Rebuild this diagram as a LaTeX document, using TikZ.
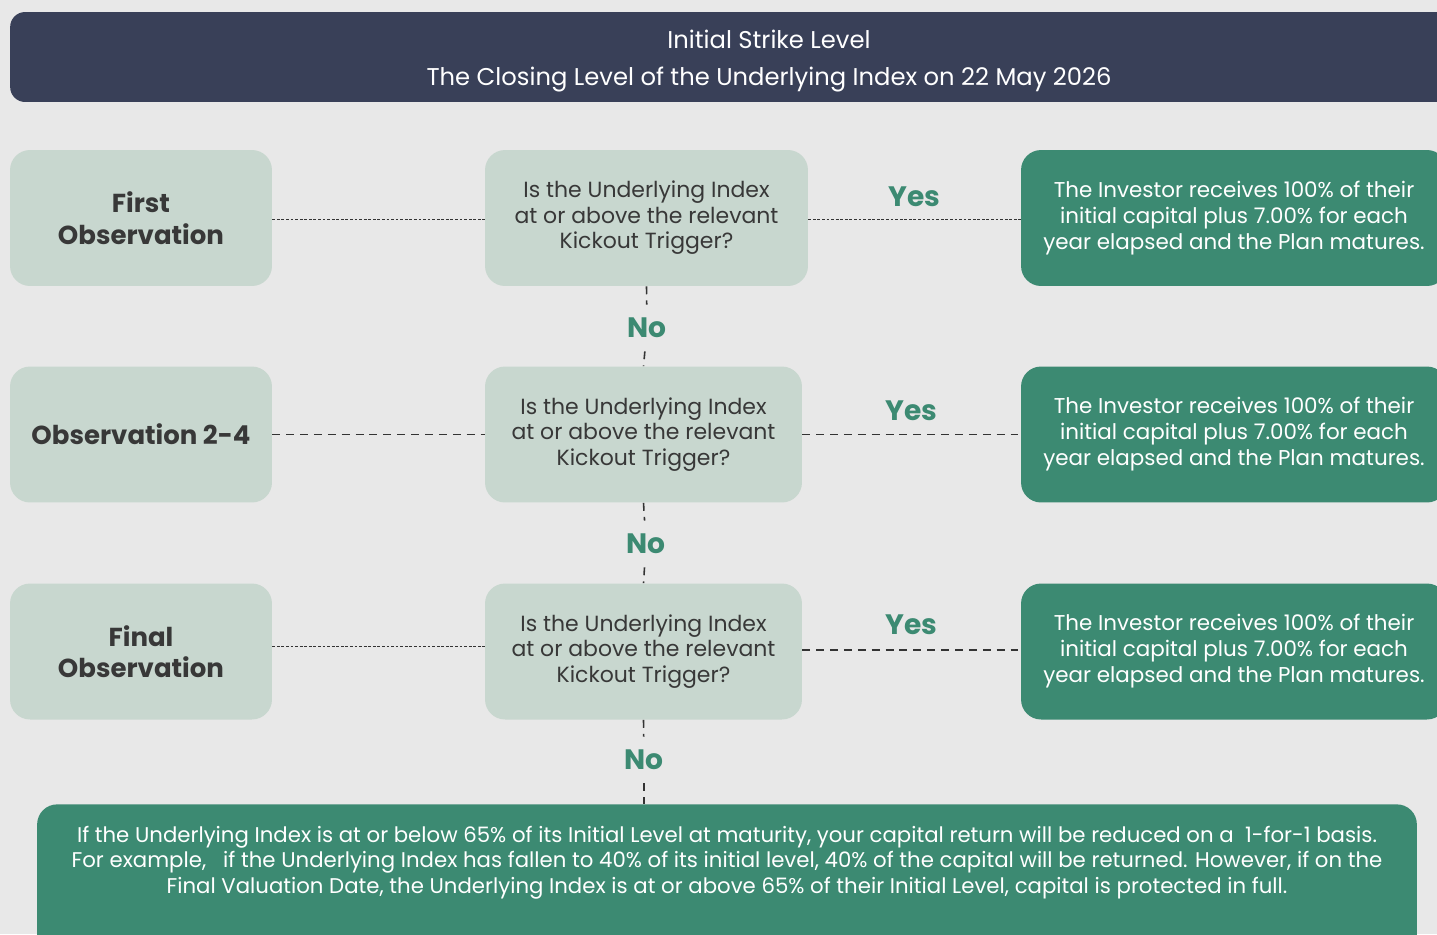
\documentclass[tikz,border=0pt]{standalone}
\usepackage{fontspec}
\setmainfont{Poppins}
\usetikzlibrary{positioning}
\definecolor{pagebg}{HTML}{E8E8E8}
\definecolor{headnavy}{HTML}{394058}
\definecolor{palebox}{HTML}{C8D7CF}
\definecolor{kickgreen}{HTML}{3C8A72}
\definecolor{darktext}{HTML}{383838}
\definecolor{linegrey}{HTML}{333333}
\tikzset{
  headbox/.style={fill=headnavy, rounded corners=0.3cm, minimum width=30.36cm, minimum height=1.8cm},
  headtext/.style={text=white, align=center, font=\fontsize{13.8}{21}\selectfont},
  obsbox/.style={fill=palebox, text=darktext, rounded corners=0.4cm, minimum width=5.24cm,
    minimum height=2.72cm, align=center, font=\bfseries\fontsize{14.8}{18}\selectfont},
  askbox/.style={fill=palebox, text=darktext, rounded corners=0.4cm, minimum width=6.34cm,
    minimum height=2.72cm, align=center, font=\fontsize{12.5}{14.5}\selectfont},
  winbox/.style={fill=kickgreen, text=white, rounded corners=0.4cm, minimum width=8.52cm,
    minimum height=2.72cm, align=center, font=\fontsize{12.2}{14.8}\selectfont},
  answer/.style={text=kickgreen, font=\bfseries\fontsize{16}{18}\selectfont},
  noanswer/.style={answer, inner xsep=2pt, inner ysep=0.26cm},
  fineline/.style={linegrey, line width=0.5pt, dash pattern=on 1.6pt off 1pt},
  dashline/.style={linegrey, line width=0.9pt, dash pattern=on 4.5pt off 3.4pt},
  downline/.style={linegrey, line width=0.9pt, dash pattern=on 4.5pt off 3.5pt},
}
\begin{document}
\begin{tikzpicture}[x=0.02cm, y=-0.02cm]
	\useasboundingbox (0, 0) rectangle (1437, 934);
	\clip (0, 0) rectangle (1437, 934);
	\fill[pagebg] (0, 0) rectangle (1437, 934);

	\node[headbox] (strike) at (769, 57) {};
	\node[headtext] (striketxt) at (769, 61) {Initial Strike Level\\The Closing Level of the Underlying Index on 22 May 2026};

	% observation dates
	\node[obsbox] (obs1) at (141, 218) {First\\Observation};
	\node[obsbox] (obs2) at (141, 434.5) {Observation 2-4};
	\node[obsbox] (obs3) at (141, 651.5) {Final\\Observation};

	% kickout questions
	\node[askbox, minimum width=6.46cm] (ask1) at (646.5, 218) {Is the Underlying Index\\at or above the relevant\\Kickout Trigger?};
	\node[askbox] (ask2) at (643.5, 434.5) {Is the Underlying Index\\at or above the relevant\\Kickout Trigger?};
	\node[askbox] (ask3) at (643.5, 651.5) {Is the Underlying Index\\at or above the relevant\\Kickout Trigger?};

	% kickout payouts
	\node[winbox] (win1) at (1234, 218) {The Investor receives 100\% of their\\initial capital plus 7.00\% for each\\year elapsed and the Plan matures.};
	\node[winbox] (win2) at (1234, 434.5) {The Investor receives 100\% of their\\initial capital plus 7.00\% for each\\year elapsed and the Plan matures.};
	\node[winbox] (win3) at (1234, 651.5) {The Investor receives 100\% of their\\initial capital plus 7.00\% for each\\year elapsed and the Plan matures.};

	% maturity
	\node[fill=kickgreen, rounded corners=0.4cm, minimum width=27.6cm, minimum height=3.2cm, anchor=north] (risk) at (727, 804) {};
	\node[text=white, align=center, anchor=north, font=\fontsize{12.1}{14.5}\selectfont] (risktxt) at (727, 820) {If the Underlying Index is at or below 65\% of its Initial Level at maturity, your capital return will be reduced on a\ \ 1-for-1 basis.\\For example,\ \ \ if the Underlying Index has fallen to 40\% of its initial level, 40\% of the capital will be returned. However, if on the\\Final Valuation Date, the Underlying Index is at or above 65\% of their Initial Level, capital is protected in full.};

	% rows
	\draw[fineline] ([yshift=-1pt]obs1.east) -- ([yshift=-1pt]ask1.west);
	\draw[fineline] ([yshift=-1pt]ask1.east) --node[answer, above, yshift=4pt]{Yes} ([yshift=-1pt]win1.west);
	\draw[dashline] (obs2.east) -- (ask2.west);
	\draw[dashline] (ask2.east) --node[answer, above, yshift=4pt]{Yes} (win2.west);
	\draw[fineline] ([yshift=3pt]obs3.east) -- ([yshift=3pt]ask3.west);
	\draw[dashline] ([yshift=1pt]ask3.east) --node[answer, above, yshift=5pt]{Yes} ([yshift=1pt]win3.west);

	% no branches
	\node[noanswer] (no1) at (647, 328) {No};
	\node[noanswer] (no2) at (646, 544) {No};
	\node[noanswer] (no3) at (644, 760) {No};
	\draw[downline] (ask1.south) -- (no1);
	\draw[downline] (no1) -- (ask2.north);
	\draw[downline] (ask2.south) -- (no2);
	\draw[downline] (no2) -- (ask3.north);
	\draw[downline] (ask3.south) -- (no3);
	\draw[downline] (no3) -- (risk.north -| no3);
\end{tikzpicture}
\end{document}
